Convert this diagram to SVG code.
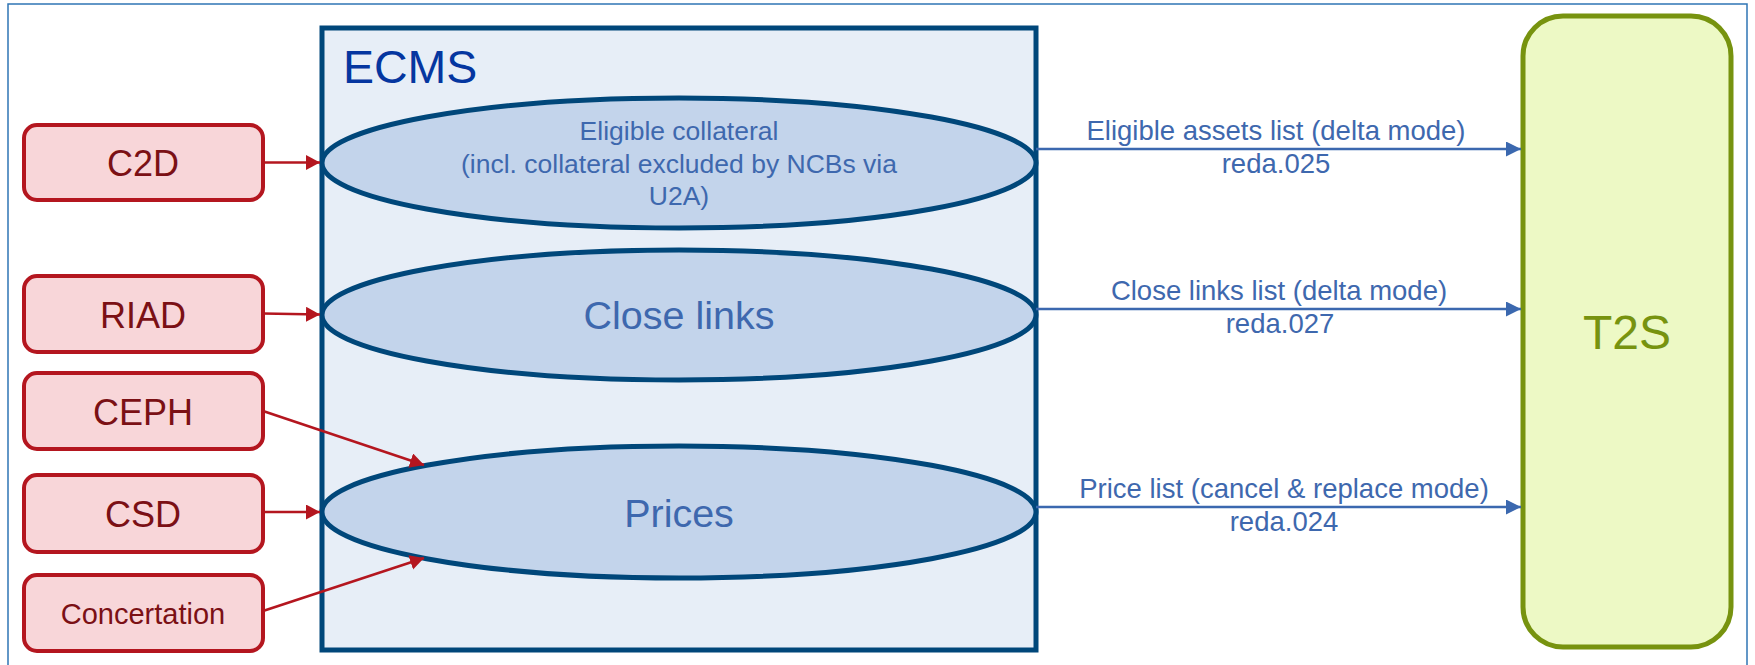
<svg xmlns="http://www.w3.org/2000/svg" width="1755" height="665" viewBox="0 0 1755 665">
<style>
  .src rect { fill: #F8D6D9; stroke: #B4161F; stroke-width: 4; }
  .src text { font-family: "Liberation Sans", Arial, sans-serif; fill: #7B1015; text-anchor: middle; }
  .ell ellipse { fill: #C3D4EB; stroke: #00477A; stroke-width: 5; }
  .ell text { font-family: "Liberation Sans", Arial, sans-serif; fill: #3E68AE; text-anchor: middle; }
  .lbl { font-family: "Liberation Sans", Arial, sans-serif; fill: #3E68AE; text-anchor: middle; font-size: 27.5px; }
  .red { stroke: #B4161F; stroke-width: 2.5; fill: none; marker-end: url(#ahRed); }
  .blue { stroke: #3B68AF; stroke-width: 2.5; fill: none; marker-end: url(#ahBlue); }
</style>
<defs>
  <marker id="ahRed" markerUnits="userSpaceOnUse" markerWidth="16" markerHeight="16" refX="14" refY="7.5" orient="auto">
    <path d="M0,0 L14,7.5 L0,15 Z" fill="#B4161F"/>
  </marker>
  <marker id="ahBlue" markerUnits="userSpaceOnUse" markerWidth="17" markerHeight="17" refX="15" refY="7.5" orient="auto">
    <path d="M0,0 L15,7.5 L0,15 Z" fill="#3B68AF"/>
  </marker>
</defs>
<rect x="0" y="0" width="1755" height="665" fill="#FFFFFF"/>
<rect x="8" y="4" width="1739" height="700" fill="none" stroke="#2F75B5" stroke-width="1.5"/>

<g id="ECMS">
  <rect x="322" y="28" width="714" height="622" fill="#E7EEF7" stroke="#00477A" stroke-width="5"/>
  <text x="343" y="83" font-family="Liberation Sans, Arial, sans-serif" font-size="46.5" fill="#0536A0">ECMS</text>
</g>

<g id="eligible" class="ell">
  <ellipse cx="679" cy="163" rx="357" ry="65"/>
  <text x="679" y="140" font-size="26.5">Eligible collateral</text>
  <text x="679" y="173" font-size="26.5">(incl. collateral excluded by NCBs via</text>
  <text x="679" y="205" font-size="26.5">U2A)</text>
</g>
<g id="closelinks" class="ell">
  <ellipse cx="679" cy="315" rx="357" ry="65"/>
  <text x="679" y="329" font-size="39.5">Close links</text>
</g>
<g id="prices" class="ell">
  <ellipse cx="679" cy="512" rx="357" ry="66"/>
  <text x="679" y="527" font-size="39.5">Prices</text>
</g>

<g id="C2D" class="src">
  <rect x="24" y="125" width="239" height="75" rx="13"/>
  <text x="143" y="176" font-size="36">C2D</text>
</g>
<g id="RIAD" class="src">
  <rect x="24" y="276" width="239" height="76" rx="13"/>
  <text x="143" y="328" font-size="36">RIAD</text>
</g>
<g id="CEPH" class="src">
  <rect x="24" y="373" width="239" height="76" rx="13"/>
  <text x="143" y="425" font-size="36">CEPH</text>
</g>
<g id="CSD" class="src">
  <rect x="24" y="475" width="239" height="77" rx="13"/>
  <text x="143" y="527" font-size="36">CSD</text>
</g>
<g id="Concertation" class="src">
  <rect x="24" y="575" width="239" height="76" rx="13"/>
  <text x="143" y="624" font-size="29">Concertation</text>
</g>

<g id="T2S">
  <rect x="1523" y="16" width="208" height="631" rx="40" fill="#EDF9C5" stroke="#77930F" stroke-width="5"/>
  <text x="1627" y="349" font-family="Liberation Sans, Arial, sans-serif" font-size="48" fill="#77930F" text-anchor="middle">T2S</text>
</g>

<g id="connectors">
  <path class="red" d="M263,162.5 L320,162.5"/>
  <path class="red" d="M263,313.5 L320,314.5"/>
  <path class="red" d="M263,411 L424,465"/>
  <path class="red" d="M263,512 L320,512"/>
  <path class="red" d="M263,611 L424,558"/>

  <path class="blue" d="M1036,149 L1521,149"/>
  <path class="blue" d="M1036,309 L1521,309"/>
  <path class="blue" d="M1036,507 L1521,507"/>
  <text class="lbl" x="1276" y="140">Eligible assets list (delta mode)</text>
  <text class="lbl" x="1276" y="173">reda.025</text>
  <text class="lbl" x="1279" y="300">Close links list (delta mode)</text>
  <text class="lbl" x="1280" y="333">reda.027</text>
  <text class="lbl" x="1284" y="498">Price list (cancel &amp; replace mode)</text>
  <text class="lbl" x="1284" y="531">reda.024</text>
</g>
</svg>
